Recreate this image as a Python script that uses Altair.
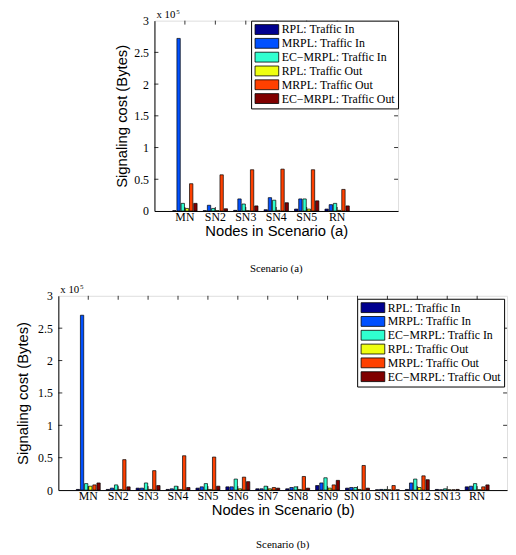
import altair as alt
import pandas as pd

series = ["RPL: Traffic In", "MRPL: Traffic In", "EC−MRPL: Traffic In",
          "RPL: Traffic Out", "MRPL: Traffic Out", "EC−MRPL: Traffic Out"]
colors = ["#00008f", "#0050ff", "#30ffd0", "#efff10", "#ff4000", "#800000"]
y_ticks = [0, 0.5, 1, 1.5, 2, 2.5, 3]

# Scenario (a), values in units of 10^5 bytes
nodes_a = ["MN", "SN2", "SN3", "SN4", "SN5", "RN"]
rpl_in_a = [0.005, 0.005, 0.01, 0.02, 0.03, 0.03]
mrpl_in_a = [2.72, 0.09, 0.19, 0.21, 0.19, 0.10]
ec_in_a = [0.12, 0.04, 0.11, 0.17, 0.19, 0.12]
rpl_out_a = [0.04, 0.005, 0.005, 0.01, 0.03, 0.01]
mrpl_out_a = [0.43, 0.57, 0.65, 0.66, 0.65, 0.34]
ec_out_a = [0.12, 0.035, 0.08, 0.13, 0.16, 0.08]

# Scenario (b)
nodes_b = ["MN", "SN2", "SN3", "SN4", "SN5", "SN6", "SN7", "SN8", "SN9",
           "SN10", "SN11", "SN12", "SN13", "RN"]
rpl_in_b = [0.01, 0.01, 0.03, 0.01, 0.03, 0.05, 0.02, 0.02, 0.07, 0.03, 0.005, 0.01, 0.01, 0.05]
mrpl_in_b = [2.70, 0.03, 0.03, 0.02, 0.05, 0.05, 0.02, 0.04, 0.11, 0.04, 0.01, 0.11, 0.005, 0.06]
ec_in_b = [0.10, 0.08, 0.11, 0.06, 0.10, 0.17, 0.06, 0.05, 0.19, 0.04, 0.01, 0.17, 0.02, 0.10]
rpl_out_b = [0.06, 0.01, 0.01, 0.01, 0.01, 0.02, 0.02, 0.01, 0.03, 0.01, 0.005, 0.04, 0.005, 0.005]
mrpl_out_b = [0.08, 0.47, 0.30, 0.53, 0.51, 0.20, 0.04, 0.21, 0.08, 0.38, 0.07, 0.22, 0.005, 0.05]
ec_out_b = [0.11, 0.05, 0.07, 0.04, 0.06, 0.13, 0.03, 0.03, 0.15, 0.03, 0.005, 0.16, 0.01, 0.08]


def make_df(nodes, cols):
    rows = []
    for s, vals in zip(series, cols):
        for n, v in zip(nodes, vals):
            rows.append({"node": n, "series": s, "value": v})
    return pd.DataFrame(rows)


df_a = make_df(nodes_a, [rpl_in_a, mrpl_in_a, ec_in_a, rpl_out_a, mrpl_out_a, ec_out_a])
df_b = make_df(nodes_b, [rpl_in_b, mrpl_in_b, ec_in_b, rpl_out_b, mrpl_out_b, ec_out_b])

SERIF = "Liberation Serif"
SANS = "Liberation Sans"


def panel(df, nodes, domain, xtitle, title, width, height,
          ylabpad, ytitlepad, legoffset, titleoffset, right_pad):
    xscale = alt.Scale(domain=domain, paddingInner=0.2, paddingOuter=0.6)
    yscale = alt.Scale(domain=[0, 3], nice=False)
    xaxis = alt.Axis(title=xtitle, ticks=False, labelAngle=0,
                     labelFont=SERIF, labelFontSize=12, labelColor="black",
                     labelPadding=1, titleFont=SANS, titleFontSize=15,
                     titleFontWeight="normal", titleColor="black",
                     titlePadding=1, domainColor="black")
    yaxis = alt.Axis(values=y_ticks, format="~g", grid=False,
                     title="Signaling cost (Bytes)", ticks=False,
                     labelOverlap=False,
                     labelFont=SERIF, labelFontSize=12, labelColor="black",
                     labelPadding=ylabpad, titleFont=SANS, titleFontSize=15,
                     titleFontWeight="normal", titleColor="black",
                     titlePadding=ytitlepad, domainColor="black")
    bars = alt.Chart(df).mark_bar(stroke="black", strokeWidth=0.7).encode(
        x=alt.X("node:N", scale=xscale, axis=xaxis),
        xOffset=alt.XOffset("series:N", sort=series,
                            scale=alt.Scale(domain=series, paddingInner=0.2)),
        y=alt.Y("value:Q", scale=yscale, axis=yaxis),
        color=alt.Color("series:N", sort=series,
                        scale=alt.Scale(domain=series, range=colors),
                        legend=alt.Legend(title=None, orient="top-right", offset=legoffset,
                                          fillColor="white", strokeColor="black",
                                          padding=3, labelFont=SERIF, labelFontSize=12,
                                          labelColor="black", rowPadding=0,
                                          symbolType="M-2.4,-1H2.4V1H-2.4Z",
                                          symbolSize=100, symbolStrokeColor="black",
                                          symbolStrokeWidth=0.8, symbolOpacity=1,
                                          symbolOffset=7, labelOffset=9,
                                          labelLimit=300)),
    )
    tk = pd.DataFrame({"v": y_ticks[1:-1]})
    yt_left = alt.Chart(tk).mark_rule(color="black", strokeWidth=0.8).encode(
        y=alt.Y("v:Q", scale=yscale, axis=yaxis), x=alt.value(0), x2=alt.value(4))
    yt_right = alt.Chart(tk).mark_rule(color="black", strokeWidth=0.8).encode(
        y=alt.Y("v:Q", scale=yscale, axis=yaxis), x=alt.value(width - 4),
        x2=alt.value(width))
    nd = pd.DataFrame({"node": nodes})
    xt_top = alt.Chart(nd).mark_rule(color="black", strokeWidth=0.8).encode(
        x=alt.X("node:N", scale=xscale, axis=xaxis, bandPosition=0.5),
        y=alt.value(0), y2=alt.value(4))
    xt_bot = alt.Chart(nd).mark_rule(color="black", strokeWidth=0.8).encode(
        x=alt.X("node:N", scale=xscale, axis=xaxis, bandPosition=0.5),
        y=alt.value(height - 4), y2=alt.value(height))
    txt = pd.DataFrame({"t": ["x 10"]})
    mult = alt.Chart(txt).mark_text(font=SERIF, fontSize=11, align="left",
                                    baseline="bottom", color="black").encode(
        text="t:N", x=alt.value(2), y=alt.value(-1))
    sup = alt.Chart(pd.DataFrame({"t": ["5"]})).mark_text(
        font=SERIF, fontSize=7, align="left", baseline="bottom", color="black").encode(
        text="t:N", x=alt.value(22), y=alt.value(-6))
    layers = [bars, yt_left, yt_right, xt_top, xt_bot, mult, sup]
    if right_pad > 0:
        # white spacer to the right of the plot (layout room only)
        spacer = alt.Chart(pd.DataFrame({"t": ["s"]})).mark_rule(
            color="white", strokeWidth=1).encode(
            x=alt.value(width + 2), x2=alt.value(width + right_pad),
            y=alt.value(height / 2))
        layers.append(spacer)
    return alt.layer(*layers).properties(
        width=width, height=height,
        title=alt.TitleParams(title, orient="bottom", font=SERIF, fontSize=11,
                              fontWeight="normal", color="black", offset=titleoffset),
    )


chart_a = panel(df_a, nodes_a, nodes_a + [" "], "Nodes in Scenario (a)", "Scenario (a)",
                247, 193, 6, 4, 0, 25, 13)
chart_b = panel(df_b, nodes_b, nodes_b, "Nodes in Scenario (b)", "Scenario (b)",
                455, 197, 6, 7, 3, 22, 0)

chart = alt.vconcat(chart_a, chart_b, spacing=7, center=True).resolve_scale(
    x="independent", y="independent", color="independent", xOffset="independent"
).resolve_legend(color="independent").configure_view(
    stroke="black", strokeWidth=1
).configure(background="white", padding={"left": 7, "top": -5, "right": 0, "bottom": 0})

chart.save("out.html", embed_options={"renderer": "svg", "actions": False})
